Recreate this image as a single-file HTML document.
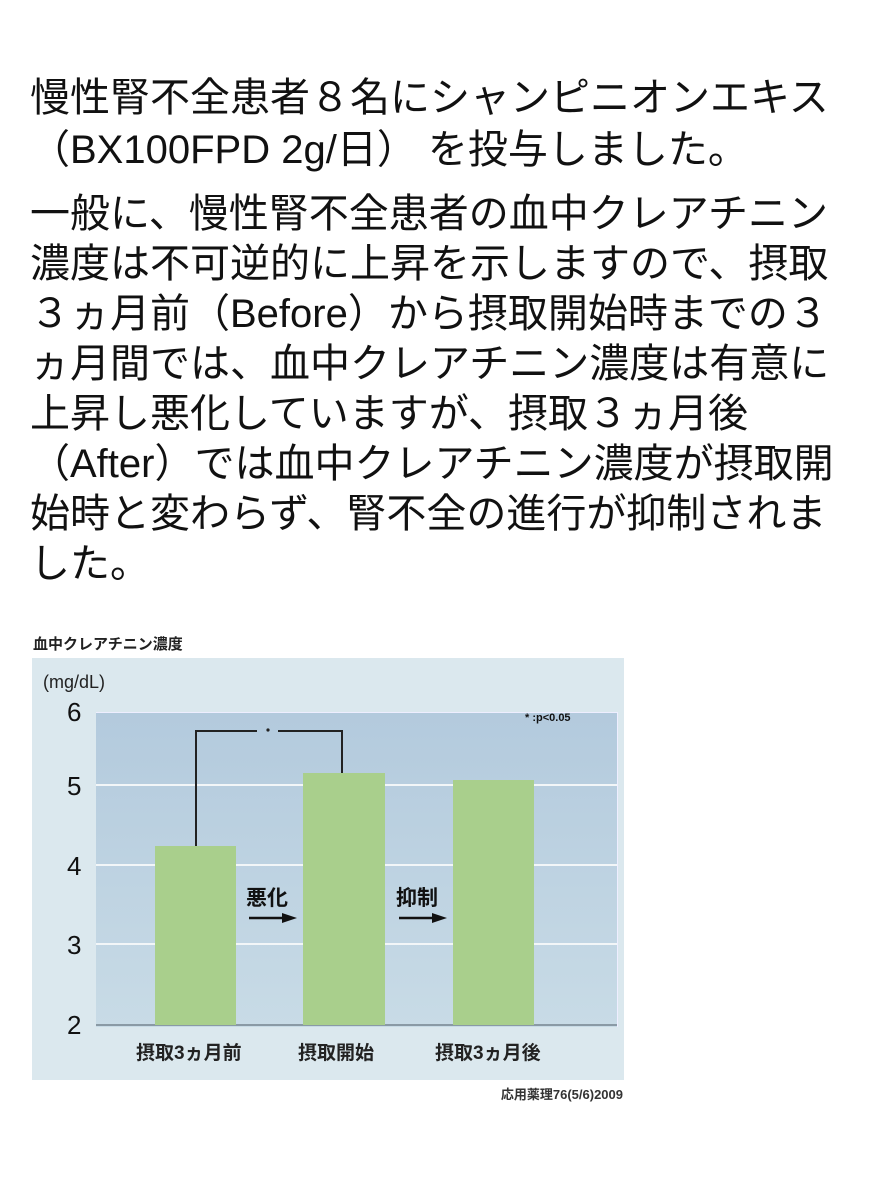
<!DOCTYPE html>
<html><head><meta charset="utf-8"><style>
body{margin:0;width:891px;height:1186px;background:#fff;position:relative;overflow:hidden;font-family:"Liberation Sans","Noto Sans CJK JP",sans-serif;color:#111}
.t{position:absolute;left:30px;font-size:40px;white-space:nowrap;line-height:51px}
.a{position:absolute;white-space:nowrap}
</style></head><body>
<div class="t" style="top:72px;line-height:52px">慢性腎不全患者８名にシャンピニオンエキス<br>（BX100FPD 2g/日） を投与しました。</div>
<div class="t" style="top:189px;line-height:50px">一般に、慢性腎不全患者の血中クレアチニン<br>濃度は不可逆的に上昇を示しますので、摂取<br>３ヵ月前（Before）から摂取開始時までの３<br>ヵ月間では、血中クレアチニン濃度は有意に<br>上昇し悪化していますが、摂取３ヵ月後<br>（After）では血中クレアチニン濃度が摂取開<br>始時と変わらず、腎不全の進行が抑制されま<br>した。</div>

<div class="a" style="left:33px;top:633px;font-size:15px;font-weight:bold;color:#222">血中クレアチニン濃度</div>
<div style="position:absolute;left:32px;top:658px;width:592px;height:422px;background:#dbe8ee"></div>
<div style="position:absolute;left:96px;top:712px;width:521px;height:314px;background:linear-gradient(#b3cadd,#c8dbe6);border-right:1px solid #eef;border-top:1px solid #eef"></div>
<svg style="position:absolute;left:0;top:0" width="891" height="1186">
<g stroke="#f2f6f8" stroke-width="2">
<line x1="96" y1="785" x2="617" y2="785"/><line x1="96" y1="865" x2="617" y2="865"/><line x1="96" y1="944" x2="617" y2="944"/>
</g>
<line x1="96" y1="1025" x2="617" y2="1025" stroke="#8a9aa5" stroke-width="2"/>
<rect x="155" y="846" width="81" height="179" fill="#a9cf8c"/>
<rect x="303" y="773" width="82" height="252" fill="#a9cf8c"/>
<rect x="453" y="780" width="81" height="245" fill="#a9cf8c"/>
<polyline points="196,846 196,731 257,731" fill="none" stroke="#222" stroke-width="2"/>
<polyline points="278,731 342,731 342,773" fill="none" stroke="#222" stroke-width="2"/>
<circle cx="268" cy="730" r="1.6" fill="#222"/>
<line x1="249" y1="918" x2="284" y2="918" stroke="#111" stroke-width="2.5"/><polygon points="282,913 297,918 282,923" fill="#111"/>
<line x1="399" y1="918" x2="434" y2="918" stroke="#111" stroke-width="2.5"/><polygon points="432,913 447,918 432,923" fill="#111"/>
</svg>
<div class="a" style="left:43px;top:672px;font-size:18px;color:#222">(mg/dL)</div>
<div class="a" style="left:67px;top:697px;font-size:26px">6</div>
<div class="a" style="left:67px;top:771px;font-size:26px">5</div>
<div class="a" style="left:67px;top:851px;font-size:26px">4</div>
<div class="a" style="left:67px;top:930px;font-size:26px">3</div>
<div class="a" style="left:67px;top:1010px;font-size:26px">2</div>
<div class="a" style="left:525px;top:712px;font-size:11px;font-weight:bold">* :p&lt;0.05</div>
<div class="a" style="left:246px;top:882px;font-size:21px;font-weight:bold">悪化</div>
<div class="a" style="left:396px;top:882px;font-size:21px;font-weight:bold">抑制</div>
<div class="a" style="left:136px;top:1038px;font-size:19px;font-weight:bold;color:#222">摂取3ヵ月前</div>
<div class="a" style="left:298px;top:1038px;font-size:19px;font-weight:bold;color:#222">摂取開始</div>
<div class="a" style="left:435px;top:1038px;font-size:19px;font-weight:bold;color:#222">摂取3ヵ月後</div>
<div class="a" style="right:268px;top:1084px;font-size:13px;font-weight:bold;color:#333">応用薬理76(5/6)2009</div>
</body></html>
